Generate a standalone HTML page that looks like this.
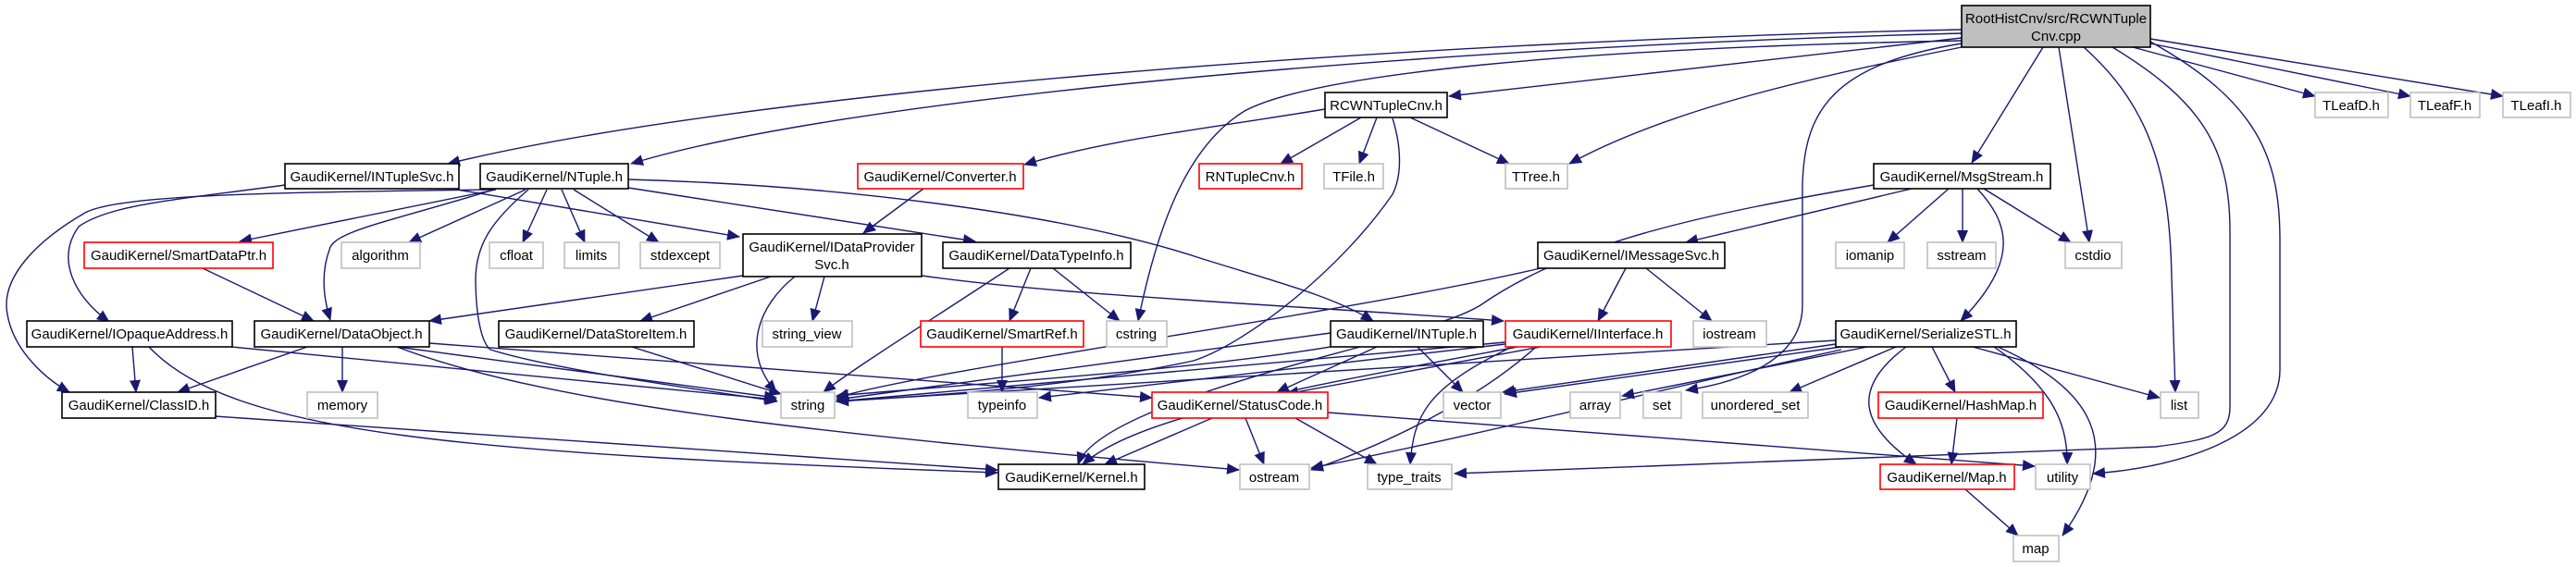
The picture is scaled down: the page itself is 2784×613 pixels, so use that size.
<!DOCTYPE html>
<html><head><meta charset="utf-8"><style>
html,body{margin:0;padding:0;background:#fff;}
svg{display:block}
text{font-family:"Liberation Sans",sans-serif;font-size:15px;fill:#000;text-anchor:middle}
.b{fill:#fff;stroke:#000;stroke-width:1.6}
.g{fill:#fff;stroke:#bfbfbf;stroke-width:1.6}
.r{fill:#fff;stroke:#ff0000;stroke-width:1.6}
path{fill:none;stroke:#191970;stroke-width:1.4;marker-end:url(#a)}
</style></head><body>
<svg width="2784" height="613" viewBox="0 0 2784 613" xmlns="http://www.w3.org/2000/svg">
<defs><marker id="a" markerUnits="userSpaceOnUse" markerWidth="14" markerHeight="12" refX="13" refY="6" orient="auto"><polygon points="0,0 14,6 0,12" fill="#191970"/></marker></defs>

<!-- edges -->
<path d="M2120,32 C1500,45 800,100 484,177"/>
<path d="M2120,36 C1500,52 900,110 682,177"/>
<path d="M2120,41 L1566,104"/>
<path d="M2120,51 C1950,85 1800,120 1696,177"/>
<path d="M2120,44 C1700,52 1420,80 1345,120 C1280,160 1250,250 1230,347"/>
<path d="M2120,47 C1980,70 1950,120 1948,200 L1948,330 C1948,380 1900,410 1822,422"/>
<path d="M2208,51 L2131,176"/>
<path d="M2225,51 L2258,262"/>
<path d="M2252,51 C2330,120 2345,200 2347,300 L2351,424"/>
<path d="M2283,51 C2380,110 2410,160 2410,250 L2410,440 C2410,470 2390,475 2330,483 L1572,512"/>
<path d="M2324,45 C2440,110 2464,170 2464,260 L2464,400 C2464,470 2360,505 2262,512"/>
<path d="M2305,51 L2502,104"/>
<path d="M2324,47 L2605,104"/>
<path d="M2324,42 L2705,104"/>

<path d="M1488,127 L1469,177"/>
<path d="M1524,127 L1631,177"/>
<path d="M1471,127 L1384,177"/>
<path d="M1432,118 C1300,140 1200,150 1107,178"/>
<path d="M1505,128 C1515,160 1515,190 1505,210 C1450,290 1350,370 1290,390 C1150,420 1000,428 904,434"/>
<path d="M998,204 L933,252"/>

<path d="M536,205 L259,261"/>
<path d="M568,205 L442,262"/>
<path d="M591,205 L565,262"/>
<path d="M607,205 L632,262"/>
<path d="M620,205 L712,262"/>
<path d="M494,205 L799,256"/>
<path d="M679,203 L1054,261"/>
<path d="M679,194 C900,200 1150,230 1300,280 C1380,305 1440,320 1484,347"/>
<path d="M534,205 C420,240 360,250 356,270 C345,300 352,330 357,346"/>
<path d="M571,205 C530,240 515,265 514,300 C514,340 520,370 530,378 C600,400 750,420 840,434"/>
<path d="M534,205 C300,208 130,210 92,230 C40,260 0,300 8,340 C15,380 50,410 75,424"/>
<path d="M308,200 C200,215 120,220 85,245 C60,280 80,320 118,348"/>
<path d="M219,290 L339,347"/>

<path d="M803,298 L464,347"/>
<path d="M833,299 L692,347"/>
<path d="M891,299 L878,347"/>
<path d="M859,299 C820,330 800,380 839,424"/>
<path d="M996,298 C1150,320 1400,330 1625,347"/>
<path d="M1114,290 L1091,347"/>
<path d="M1138,290 L1210,347"/>
<path d="M1091,290 C1000,350 920,400 890,424"/>

<path d="M332,375 L192,424"/>
<path d="M370,375 L370,424"/>
<path d="M429,375 L839,430"/>
<path d="M429,375 C600,440 900,470 1339,508"/>
<path d="M464,371 L1245,430"/>
<path d="M143,375 L147,424"/>
<path d="M250,375 L839,432"/>
<path d="M161,375 C250,470 500,490 1078,511"/>
<path d="M683,375 L844,426"/>
<path d="M232,450 L1078,508"/>
<path d="M1083,375 L1083,424"/>

<path d="M1310,452 L1194,502"/>
<path d="M1346,452 L1366,502"/>
<path d="M1400,452 L1488,502"/>
<path d="M1435,446 L2199,504"/>

<path d="M1438,360 L904,432"/>
<path d="M1532,375 L1581,424"/>
<path d="M1488,375 L1380,424"/>
<path d="M1470,375 C1300,420 1180,460 1165,502"/>
<path d="M1627,370 L904,434"/>
<path d="M1627,372 L1123,430"/>
<path d="M1665,375 L1390,426"/>
<path d="M1634,375 C1540,420 1528,450 1524,502"/>
<path d="M1660,375 C1600,430 1500,480 1417,508"/>
<path d="M1640,375 C1400,420 1230,450 1170,502"/>

<path d="M1757,290 L1727,347"/>
<path d="M1779,290 L1850,347"/>
<path d="M1665,290 C1450,340 1000,400 904,430"/>

<path d="M2066,204 L1822,262"/>
<path d="M2106,204 L2040,262"/>
<path d="M2121,204 L2121,262"/>
<path d="M2144,204 L2238,262"/>
<path d="M2137,204 C2170,240 2185,280 2119,347"/>
<path d="M2025,200 C1850,230 1700,260 1600,330 C1500,390 1100,410 904,428"/>

<path d="M1984,372 L1624,424"/>
<path d="M1990,375 L1626,426"/>
<path d="M2018,375 L1753,428"/>
<path d="M2049,375 L1934,424"/>
<path d="M2088,375 L2113,424"/>
<path d="M2060,375 C2000,420 2010,460 2071,502"/>
<path d="M2155,375 C2220,420 2235,460 2234,502"/>
<path d="M2159,375 C2260,420 2300,480 2229,579"/>
<path d="M2132,375 L2334,430"/>
<path d="M1990,378 C1800,420 1600,470 1417,506"/>
<path d="M1984,368 L904,434"/>
<path d="M2115,452 L2109,502"/>
<path d="M2124,529 L2181,579"/>

<!-- nodes -->
<rect x="2120" y="6" width="204" height="45" fill="#bfbfbf" stroke="#000" stroke-width="1.6"/>
<text x="2222" y="25">RootHistCnv/src/RCWNTuple</text><text x="2222" y="44">Cnv.cpp</text>

<rect class="b" x="1432" y="100" width="132" height="27"/><text x="1498" y="119">RCWNTupleCnv.h</text>
<rect class="g" x="2502" y="100" width="79" height="27"/><text x="2541" y="119">TLeafD.h</text>
<rect class="g" x="2605" y="100" width="75" height="27"/><text x="2642" y="119">TLeafF.h</text>
<rect class="g" x="2705" y="100" width="73" height="27"/><text x="2741" y="119">TLeafI.h</text>

<rect class="b" x="308" y="177" width="188" height="27"/><text x="402" y="196">GaudiKernel/INTupleSvc.h</text>
<rect class="b" x="519" y="177" width="160" height="27"/><text x="599" y="196">GaudiKernel/NTuple.h</text>
<rect class="r" x="927" y="177" width="179" height="27"/><text x="1016" y="196">GaudiKernel/Converter.h</text>
<rect class="r" x="1296" y="177" width="111" height="27"/><text x="1351" y="196">RNTupleCnv.h</text>
<rect class="g" x="1431" y="177" width="64" height="27"/><text x="1463" y="196">TFile.h</text>
<rect class="g" x="1627" y="177" width="67" height="27"/><text x="1660" y="196">TTree.h</text>
<rect class="b" x="2025" y="177" width="191" height="27"/><text x="2120" y="196">GaudiKernel/MsgStream.h</text>

<rect class="r" x="91" y="262" width="204" height="28"/><text x="193" y="281">GaudiKernel/SmartDataPtr.h</text>
<rect class="g" x="369" y="262" width="85" height="28"/><text x="411" y="281">algorithm</text>
<rect class="g" x="529" y="262" width="58" height="28"/><text x="558" y="281">cfloat</text>
<rect class="g" x="610" y="262" width="59" height="28"/><text x="639" y="281">limits</text>
<rect class="g" x="692" y="262" width="86" height="28"/><text x="735" y="281">stdexcept</text>
<rect class="b" x="803" y="253" width="193" height="46"/><text x="899" y="272">GaudiKernel/IDataProvider</text><text x="899" y="291">Svc.h</text>
<rect class="b" x="1019" y="262" width="203" height="28"/><text x="1120" y="281">GaudiKernel/DataTypeInfo.h</text>
<rect class="b" x="1662" y="262" width="202" height="28"/><text x="1763" y="281">GaudiKernel/IMessageSvc.h</text>
<rect class="g" x="1984" y="262" width="74" height="28"/><text x="2021" y="281">iomanip</text>
<rect class="g" x="2083" y="262" width="74" height="28"/><text x="2120" y="281">sstream</text>
<rect class="g" x="2232" y="262" width="61" height="28"/><text x="2262" y="281">cstdio</text>

<rect class="b" x="29" y="347" width="222" height="28"/><text x="140" y="366">GaudiKernel/IOpaqueAddress.h</text>
<rect class="b" x="275" y="347" width="189" height="28"/><text x="369" y="366">GaudiKernel/DataObject.h</text>
<rect class="b" x="539" y="347" width="211" height="28"/><text x="644" y="366">GaudiKernel/DataStoreItem.h</text>
<rect class="g" x="824" y="347" width="97" height="28"/><text x="872" y="366">string_view</text>
<rect class="r" x="995" y="347" width="176" height="28"/><text x="1083" y="366">GaudiKernel/SmartRef.h</text>
<rect class="g" x="1196" y="347" width="65" height="28"/><text x="1228" y="366">cstring</text>
<rect class="b" x="1438" y="347" width="165" height="28"/><text x="1520" y="366">GaudiKernel/INTuple.h</text>
<rect class="r" x="1627" y="347" width="179" height="28"/><text x="1716" y="366">GaudiKernel/IInterface.h</text>
<rect class="g" x="1830" y="347" width="79" height="28"/><text x="1869" y="366">iostream</text>
<rect class="b" x="1984" y="347" width="195" height="28"/><text x="2081" y="366">GaudiKernel/SerializeSTL.h</text>

<rect class="b" x="67" y="424" width="166" height="28"/><text x="150" y="443">GaudiKernel/ClassID.h</text>
<rect class="g" x="332" y="424" width="76" height="28"/><text x="370" y="443">memory</text>
<rect class="g" x="844" y="424" width="58" height="28"/><text x="873" y="443">string</text>
<rect class="g" x="1046" y="424" width="75" height="28"/><text x="1083" y="443">typeinfo</text>
<rect class="r" x="1245" y="424" width="190" height="28"/><text x="1340" y="443">GaudiKernel/StatusCode.h</text>
<rect class="g" x="1560" y="424" width="62" height="28"/><text x="1591" y="443">vector</text>
<rect class="g" x="1697" y="424" width="54" height="28"/><text x="1724" y="443">array</text>
<rect class="g" x="1776" y="424" width="41" height="28"/><text x="1796" y="443">set</text>
<rect class="g" x="1840" y="424" width="114" height="28"/><text x="1897" y="443">unordered_set</text>
<rect class="r" x="2030" y="424" width="178" height="28"/><text x="2119" y="443">GaudiKernel/HashMap.h</text>
<rect class="g" x="2335" y="424" width="41" height="28"/><text x="2355" y="443">list</text>

<rect class="b" x="1079" y="502" width="158" height="27"/><text x="1158" y="521">GaudiKernel/Kernel.h</text>
<rect class="g" x="1340" y="502" width="75" height="27"/><text x="1377" y="521">ostream</text>
<rect class="g" x="1478" y="502" width="91" height="27"/><text x="1523" y="521">type_traits</text>
<rect class="r" x="2032" y="502" width="145" height="27"/><text x="2104" y="521">GaudiKernel/Map.h</text>
<rect class="g" x="2200" y="502" width="59" height="27"/><text x="2229" y="521">utility</text>

<rect class="g" x="2176" y="579" width="49" height="28"/><text x="2200" y="598">map</text>
</svg>
</body></html>
